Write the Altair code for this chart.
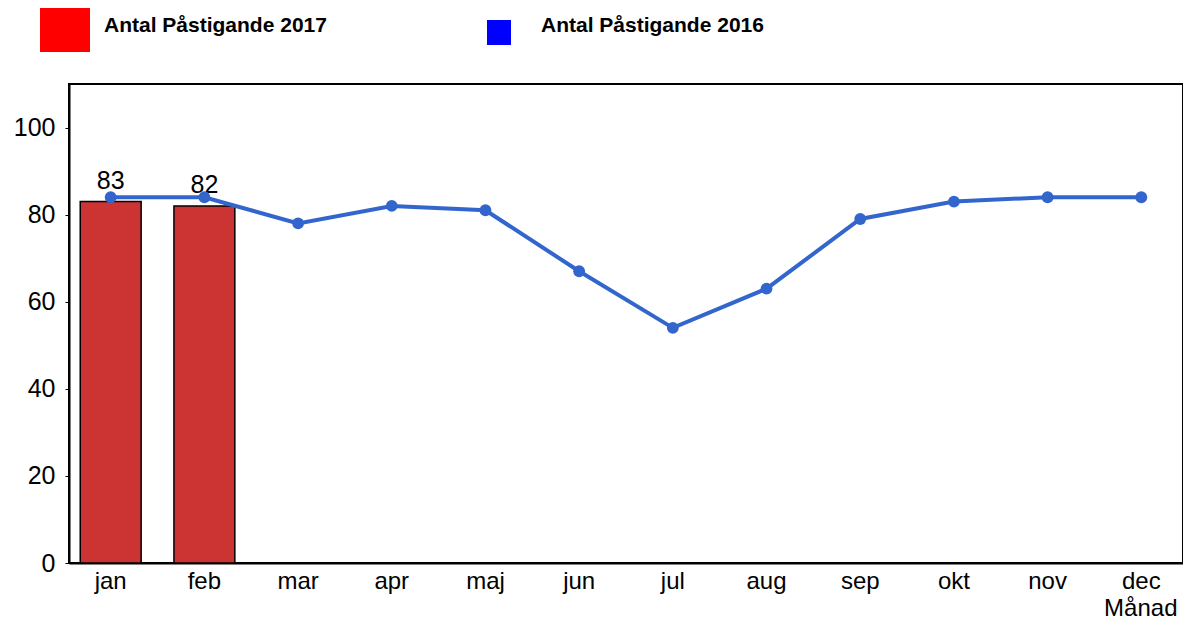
import altair as alt
import pandas as pd

months = ["jan", "feb", "mar", "apr", "maj", "jun", "jul", "aug", "sep", "okt", "nov", "dec"]
values_2016 = [84, 84, 78, 82, 81, 67, 54, 63, 79, 83, 84, 84]
months_2017 = ["jan", "feb"]
values_2017 = [83, 82]
legend_labels = ["Antal Påstigande 2017", "Antal Påstigande 2016"]
y_ticks = [0, 20, 40, 60, 80, 100]

df16 = pd.DataFrame({"month": months, "value": values_2016})
df17 = pd.DataFrame({"month": months_2017, "value": values_2017})

FONT = "Liberation Sans"
BAR = "#cc3333"
LINE = "#3366cc"

x_enc = alt.X(
    "month:N",
    sort=months,
    scale=alt.Scale(domain=months, paddingInner=0.35, paddingOuter=0.12),
    axis=alt.Axis(
        title="Månad",
        titleFont=FONT,
        titleFontSize=24,
        titleFontWeight="normal",
        titleAlign="right",
        titleBaseline="alphabetic",
        titleX=1108,
        titleY=52,
        labelFont=FONT,
        labelFontSize=24,
        labelColor="black",
        labelAngle=0,
        labelPadding=6,
        ticks=False,
        domainColor="black",
        domainWidth=2,
    ),
)
y_enc = alt.Y(
    "value:Q",
    scale=alt.Scale(domain=[0, 110], nice=False),
    axis=alt.Axis(
        title=None,
        values=y_ticks,
        labelFont=FONT,
        labelFontSize=25,
        labelColor="black",
        labelPadding=10,
        tickSize=4,
        tickColor="black",
        tickWidth=1,
        domainColor="black",
        domainWidth=2,
        grid=False,
    ),
)

bars = alt.Chart(df17).mark_bar(
    color=BAR, stroke="black", strokeWidth=1.5
).encode(x=x_enc, y=y_enc)

bar_labels = alt.Chart(df17).mark_text(
    font=FONT, fontSize=25, baseline="bottom", dy=-8, color="black"
).encode(x=x_enc, y=y_enc, text="value:Q")

line = alt.Chart(df16).mark_line(color=LINE, strokeWidth=4).encode(x=x_enc, y=y_enc)
points = alt.Chart(df16).mark_circle(color=LINE, size=140, opacity=1).encode(x=x_enc, y=y_enc)

leg17 = pd.DataFrame({"label": [legend_labels[0]]})
leg16 = pd.DataFrame({"label": [legend_labels[1]]})

leg_rect17 = alt.Chart(leg17).mark_rect(color="#ff0000").encode(
    x=alt.value(-29), x2=alt.value(21), y=alt.value(-76), y2=alt.value(-32)
)
leg_text17 = alt.Chart(leg17).mark_text(
    font=FONT, fontSize=21, fontWeight="bold", align="left", baseline="middle", color="black"
).encode(x=alt.value(35), y=alt.value(-58), text="label:N")
leg_rect16 = alt.Chart(leg16).mark_rect(color="#0000ff").encode(
    x=alt.value(418), x2=alt.value(442), y=alt.value(-64), y2=alt.value(-39)
)
leg_text16 = alt.Chart(leg16).mark_text(
    font=FONT, fontSize=21, fontWeight="bold", align="left", baseline="middle", color="black"
).encode(x=alt.value(472), y=alt.value(-58), text="label:N")

chart = alt.layer(
    bars, bar_labels, line, points, leg_rect17, leg_text17, leg_rect16, leg_text16
).properties(
    width=1114,
    height=479,
    padding={"left": 61, "top": 76, "right": 0, "bottom": 56},
    autosize="none",
    background="white",
).configure_view(
    stroke="black", strokeWidth=2
)

chart.save("out.html", embed_options={"renderer": "svg", "actions": False})
